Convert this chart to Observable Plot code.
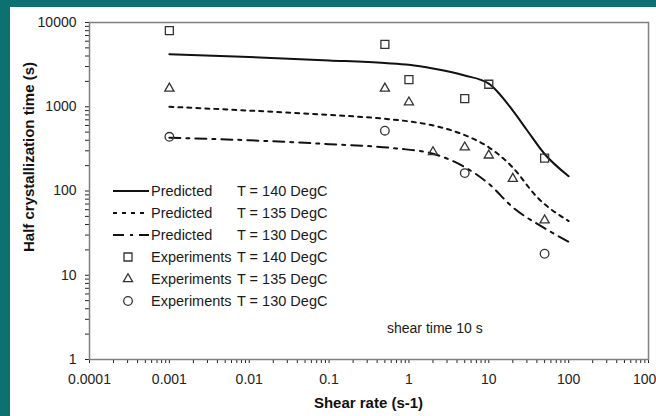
<!DOCTYPE html>
<html><head><meta charset="utf-8">
<script src="https://cdn.jsdelivr.net/npm/d3@7"></script>
<script src="https://cdn.jsdelivr.net/npm/@observablehq/plot@0.6"></script>
<style>
html,body{margin:0;padding:0;overflow:hidden;background:#0b7271;}
#wrap{position:relative;width:656px;height:416px;}
#panel{position:absolute;left:10px;top:7px;right:0;bottom:0;background:#fff;}
#chart{position:absolute;left:0;top:0;}
</style></head>
<body><div id="wrap"><div id="panel"></div><div id="chart"></div></div>
<script>
// Predicted curves (shear rate s-1, half crystallization time s)
const predRate140 = [0.001, 0.01, 0.1, 0.5, 1, 2, 5, 10, 20, 30, 50, 100];
const predTime140 = [4200, 3900, 3550, 3300, 3150, 2850, 2350, 1880, 900, 530, 275, 150];
const predRate135 = [0.001, 0.01, 0.1, 0.5, 1, 2, 5, 10, 20, 40, 100];
const predTime135 = [1000, 900, 800, 720, 670, 600, 460, 330, 190, 85, 44];
const predRate130 = [0.001, 0.01, 0.1, 0.7, 2, 5, 10, 20, 48, 100];
const predTime130 = [430, 400, 360, 320, 277, 192, 122, 64, 37, 25];
// Experiments
const expRate140 = [0.001, 0.5, 1, 5, 10, 50];
const expTime140 = [8000, 5500, 2100, 1250, 1850, 245];
const expRate135 = [0.001, 0.5, 1, 2, 5, 10, 20, 50];
const expTime135 = [1650, 1650, 1130, 290, 330, 265, 140, 45];
const expRate130 = [0.001, 0.5, 5, 50];
const expTime130 = [440, 520, 163, 18];
// Ticks and labels
const xMajor = [0.0001, 0.001, 0.01, 0.1, 1, 10, 100, 1000];
const yMajor = [1, 10, 100, 1000, 10000];
const legendNames = ["Predicted", "Predicted", "Predicted", "Experiments", "Experiments", "Experiments"];
const legendTemps = ["T = 140 DegC", "T = 135 DegC", "T = 130 DegC", "T = 140 DegC", "T = 135 DegC", "T = 130 DegC"];
const xTitle = "Shear rate (s-1)";
const yTitle = "Half crystallization time (s)";
const note = "shear time 10 s";

const minorOf = (majors) => majors.slice(0, -1).flatMap(d => [2,3,4,5,6,7,8,9].map(k => k * d));
const xTicks = xMajor.concat(minorOf(xMajor));
const yTicks = yMajor.concat(minorOf(yMajor));
const fmtX = v => xMajor.includes(v) ? String(v) : "";
const fmtY = v => yMajor.includes(v) ? String(v) : "";

const pts = (xs, ys) => xs.map((x, i) => ({x, y: ys[i]}));

const dash135 = "4,5";
const dash130 = "11,6,3,6";
const ink = "#111";
const mk = "#333";
const rSq = 4.5, rTri = 3.4, rCirc = 4.3;
const FONT = "'Liberation Sans', Arial, sans-serif";

const legendStyles = [
  {type: "line", dash: null},
  {type: "line", dash: dash135},
  {type: "line", dash: dash130},
  {type: "sym", sym: d3.symbolSquare, r: rSq},
  {type: "sym", sym: d3.symbolTriangle, r: rTri},
  {type: "sym", sym: d3.symbolCircle, r: rCirc}
];

function annotations(index, scales, values, dimensions) {
  const {marginLeft: ml, marginTop: mt, marginBottom: mb, marginRight: mr, width, height} = dimensions;
  const g = d3.create("svg:g")
    .attr("font-family", FONT)
    .attr("text-anchor", "start")
    .attr("fill", "#1a1a1a");
  // legend
  const lg = g.append("g").attr("font-size", 14.5);
  legendNames.forEach((name, i) => {
    const y = mt + 169 + i * 22;
    const s = legendStyles[i];
    if (s.type === "line") {
      lg.append("line").attr("x1", ml + 24).attr("x2", ml + 60).attr("y1", y).attr("y2", y)
        .attr("stroke", ink).attr("stroke-width", 2)
        .attr("stroke-dasharray", s.dash);
    } else {
      lg.append("path").attr("transform", `translate(${ml + 39},${y})`)
        .attr("d", d3.symbol(s.sym, Math.PI * s.r * s.r)())
        .attr("fill", "none").attr("stroke", mk).attr("stroke-width", 1.3);
    }
    lg.append("text").attr("x", ml + 62).attr("y", y).attr("dy", "0.35em").text(name);
    lg.append("text").attr("x", ml + 148).attr("y", y).attr("dy", "0.35em").text(legendTemps[i]);
  });
  // note
  g.append("text").attr("x", ml + 298).attr("y", height - mb - 26).attr("font-size", 14).text(note);
  // axis titles
  g.append("text").attr("text-anchor", "middle").attr("font-weight", "bold").attr("font-size", 15)
    .attr("fill", "#111")
    .attr("x", (ml + width - mr) / 2).attr("y", height - 8).text(xTitle);
  g.append("text").attr("text-anchor", "middle").attr("font-weight", "bold").attr("font-size", 15)
    .attr("fill", "#111")
    .attr("transform", `translate(34,157) rotate(-90)`).text(yTitle);
  return g.node();
}

const chart = Plot.plot({
  width: 656,
  height: 416,
  marginLeft: 89,
  marginRight: 8,
  marginTop: 22,
  marginBottom: 57,
  style: {background: "transparent", fontFamily: FONT, fontSize: "14px", color: "#222", overflow: "visible"},
  x: {type: "log", domain: [1e-4, 1e3], ticks: xTicks, tickFormat: fmtX, tickSize: 4, tickPadding: 11, label: null},
  y: {type: "log", domain: [1, 1e4], ticks: yTicks, tickFormat: fmtY, tickSize: 4, tickPadding: 9, label: null},
  marks: [
    Plot.frame({stroke: "#808080", strokeWidth: 1.5}),
    Plot.line(pts(predRate140, predTime140), {x: "x", y: "y", stroke: ink, strokeWidth: 2, curve: "monotone-x"}),
    Plot.line(pts(predRate135, predTime135), {x: "x", y: "y", stroke: ink, strokeWidth: 2, strokeDasharray: dash135, curve: "monotone-x"}),
    Plot.line(pts(predRate130, predTime130), {x: "x", y: "y", stroke: ink, strokeWidth: 2, strokeDasharray: dash130, curve: "monotone-x"}),
    Plot.dot(pts(expRate140, expTime140), {x: "x", y: "y", symbol: "square", r: rSq, stroke: mk, strokeWidth: 1.3, fill: "none"}),
    Plot.dot(pts(expRate135, expTime135), {x: "x", y: "y", symbol: "triangle", r: rTri, stroke: mk, strokeWidth: 1.3, fill: "none"}),
    Plot.dot(pts(expRate130, expTime130), {x: "x", y: "y", symbol: "circle", r: rCirc, stroke: mk, strokeWidth: 1.3, fill: "none"}),
    annotations
  ]
});
document.getElementById("chart").appendChild(chart);
</script>
</body></html>
